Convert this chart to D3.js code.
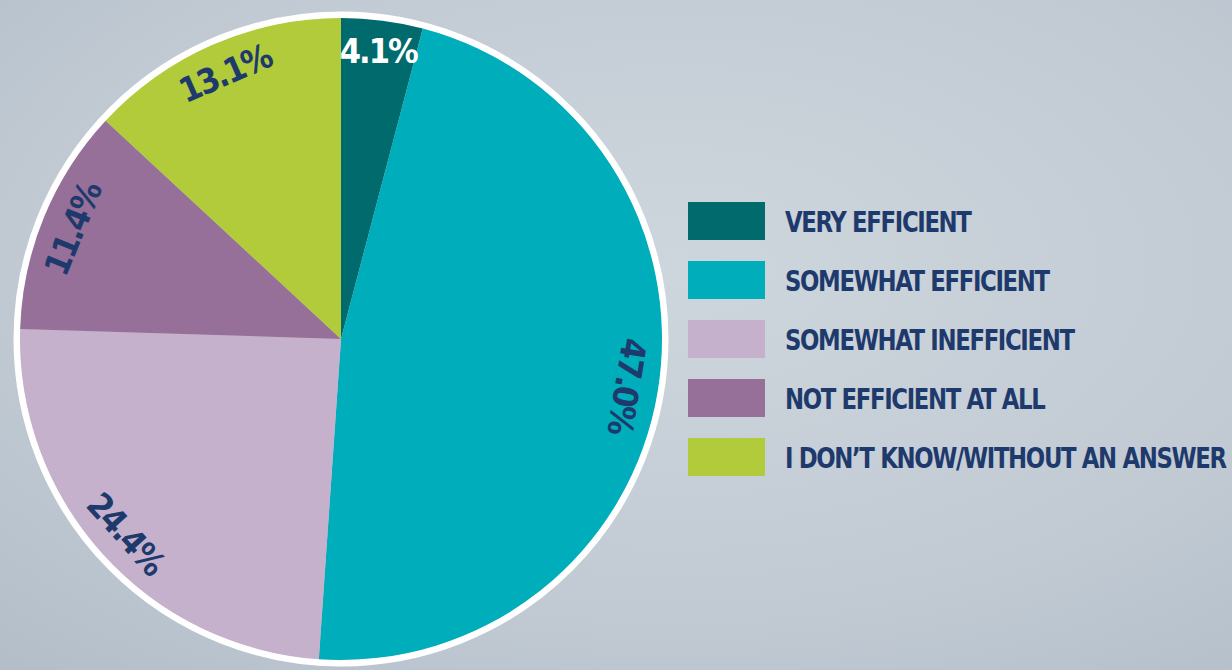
<!DOCTYPE html>
<html>
<head>
<meta charset="utf-8">
<script src="https://cdn.jsdelivr.net/npm/d3@7"></script>
<style>
  html, body { margin: 0; padding: 0; }
  body { width: 1232px; height: 670px; overflow: hidden; }
  svg text { font-family: "DejaVu Sans Condensed", "DejaVu Sans", sans-serif; font-weight: bold; }
</style>
</head>
<body>
<svg id="chart"></svg>
<script>
// answers, clockwise from 12 o'clock
var categories = [
  "VERY EFFICIENT",
  "SOMEWHAT EFFICIENT",
  "SOMEWHAT INEFFICIENT",
  "NOT EFFICIENT AT ALL",
  "I DON\u2019T KNOW/WITHOUT AN ANSWER"
];
var shares = [4.1, 47.0, 24.4, 11.4, 13.1];
var colors = ["#006a6c", "#00adba", "#c6b1cc", "#967099", "#b1cb3a"];

var width = 1232, height = 670;
var cx = 341, cy = 339, radius = 321, labelRadius = 290;
var navy = "#1e3a6c";

var svg = d3.select("svg#chart")
  .attr("width", width)
  .attr("height", height);

// background
var defs = svg.append("defs");
var bg = defs.append("radialGradient")
  .attr("id", "bg")
  .attr("cx", "55%").attr("cy", "40%").attr("r", "80%");
bg.append("stop").attr("offset", "0%").attr("stop-color", "#ced6dd");
bg.append("stop").attr("offset", "65%").attr("stop-color", "#c1cad3");
bg.append("stop").attr("offset", "100%").attr("stop-color", "#b3bec9");

svg.append("rect")
  .attr("width", width)
  .attr("height", height)
  .attr("fill", "url(#bg)");

var color = d3.scaleOrdinal().domain(categories).range(colors);

var pie = d3.pie()
  .sort(null)
  .value(function(d) { return d.value; });

var data = categories.map(function(c, i) { return { name: c, value: shares[i] }; });
var arcs = pie(data);

var arc = d3.arc().innerRadius(0).outerRadius(radius);
var labelArc = d3.arc().innerRadius(labelRadius).outerRadius(labelRadius);

var g = svg.append("g")
  .attr("transform", "translate(" + cx + "," + cy + ")");

// white rim
g.append("circle")
  .attr("r", radius + 3)
  .attr("fill", "none")
  .attr("stroke", "#ffffff")
  .attr("stroke-width", 7);

g.selectAll("path.slice")
  .data(arcs)
  .enter()
  .append("path")
  .attr("class", "slice")
  .attr("d", arc)
  .attr("fill", function(d) { return color(d.data.name); });

// labels follow the rim, flipped in the lower-left quarter
g.selectAll("text.pct")
  .data(arcs)
  .enter()
  .append("text")
  .attr("class", "pct")
  .attr("text-anchor", "middle")
  .attr("dominant-baseline", "central")
  .attr("font-size", 34)
  .attr("letter-spacing", -2)
  .attr("fill", function(d) {
    return d3.hsl(color(d.data.name)).l < 0.3 ? "#ffffff" : navy;
  })
  .attr("transform", function(d) {
    var p = labelArc.centroid(d);
    var a = (d.startAngle + d.endAngle) / 2 * 180 / Math.PI;
    var rot = (a > 180 && a < 270) ? a - 180 : a;
    if (a < 10) rot = 0;   // the thin top slice keeps a level label
    return "translate(" + p[0] + "," + p[1] + ") rotate(" + rot + ")";
  })
  .text(function(d) { return d.data.value.toFixed(1) + "%"; });

// legend
var legendX = 688, textX = 97;
var legend = svg.append("g")
  .attr("transform", "translate(" + legendX + ",202)");

var row = legend.selectAll("g.row")
  .data(categories)
  .enter()
  .append("g")
  .attr("class", "row")
  .attr("transform", function(d, i) { return "translate(0," + i * 59 + ")"; });

row.append("rect")
  .attr("width", 77)
  .attr("height", 38)
  .attr("fill", function(d) { return color(d); });

var labels = row.append("text")
  .attr("font-size", 28)
  .attr("letter-spacing", -1.5)
  .attr("fill", navy)
  .text(function(d) { return d; });

// squeeze the legend text so the longest line ends inside the page
var room = width - 6 - legendX - textX;
var longest = d3.max(labels.nodes(), function(n) { return n.getComputedTextLength(); });
var squeeze = Math.min(1, room / longest);
labels.attr("transform", "translate(" + textX + ",30) scale(" + squeeze + ",1)");
</script>
</body>
</html>
